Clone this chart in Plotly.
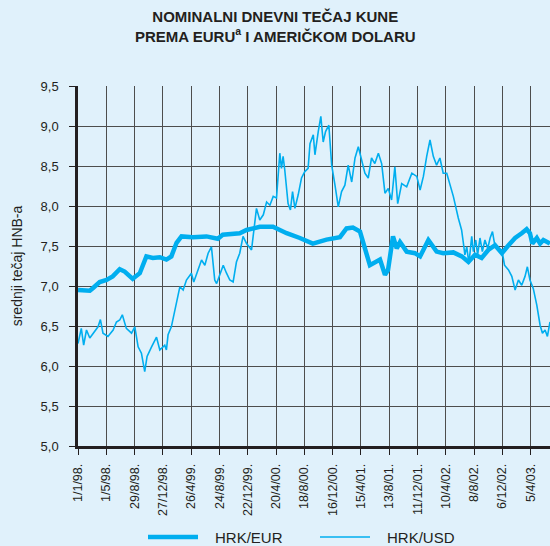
import plotly.graph_objects as go

# HRK/EUR (thick line)
eur_dates = ["1998-01-01","1998-02-20","1998-03-06","1998-04-03","1998-05-02","1998-05-28","1998-06-27",
             "1998-07-18","1998-08-21","1998-09-20","1998-10-18","1998-11-14","1998-12-14","1999-01-11",
             "1999-02-01","1999-02-23","1999-03-16","1999-05-03","1999-06-30","1999-08-17","1999-09-07",
             "1999-11-18","1999-12-17","2000-02-11","2000-04-07","2000-06-04","2000-07-30","2000-09-23",
             "2000-11-20","2001-01-16","2001-02-13","2001-03-12","2001-04-11","2001-05-09","2001-05-23",
             "2001-07-05","2001-07-26","2001-08-08","2001-08-29","2001-09-14","2001-09-28","2001-10-26",
             "2001-11-30","2001-12-22","2002-01-26","2002-03-02","2002-03-30","2002-05-12","2002-06-17",
             "2002-07-15","2002-08-12","2002-09-09","2002-10-07","2002-11-05","2002-12-04","2003-01-01",
             "2003-01-29","2003-02-26","2003-03-19","2003-04-02","2003-04-12","2003-05-01","2003-05-15",
             "2003-05-29","2003-06-26"]
eur_values = [6.95,6.94,6.975,7.05,7.075,7.12,7.21,
              7.18,7.09,7.16,7.37,7.35,7.36,7.33,
              7.37,7.54,7.62,7.61,7.62,7.59,7.64,
              7.66,7.70,7.74,7.74,7.66,7.60,7.53,
              7.58,7.61,7.72,7.73,7.68,7.41,7.26,
              7.33,7.14,7.20,7.62,7.47,7.55,7.43,
              7.41,7.37,7.575,7.43,7.41,7.42,7.37,
              7.30,7.39,7.35,7.45,7.51,7.41,7.51,
              7.60,7.66,7.71,7.66,7.53,7.60,7.53,
              7.575,7.53]

# HRK/USD (thin line)
usd_dates = ["1998-01-01","1998-01-15","1998-01-25","1998-02-06","1998-02-20","1998-03-06","1998-03-27",
             "1998-04-06","1998-04-17","1998-05-08","1998-05-30","1998-06-13","1998-06-27","1998-07-08",
             "1998-07-25","1998-08-16","1998-08-30","1998-09-13","1998-09-27","1998-10-11","1998-10-21",
             "1998-11-09","1998-11-30","1998-12-14","1999-01-04","1999-01-11","1999-01-18","1999-02-01",
             "1999-02-15","1999-03-09","1999-03-23","1999-04-06","1999-04-27","1999-05-07","1999-05-25",
             "1999-06-09","1999-06-23","1999-07-07","1999-07-21","1999-08-04","1999-08-12","1999-08-26",
             "1999-09-09","1999-09-23","1999-10-07","1999-10-21","1999-11-04","1999-11-18","1999-12-02",
             "1999-12-17","2000-01-07","2000-01-28","2000-02-11","2000-02-26","2000-03-11","2000-03-25",
             "2000-04-08","2000-04-22","2000-05-06","2000-05-13","2000-05-20","2000-05-27","2000-06-10",
             "2000-06-20","2000-06-29","2000-07-09","2000-07-23","2000-08-06","2000-08-20","2000-09-03",
             "2000-09-11","2000-09-25","2000-10-02","2000-10-16","2000-10-27","2000-11-06","2000-11-16",
             "2000-11-30","2000-12-12","2000-12-26","2001-01-09","2001-01-23","2001-02-06","2001-02-20",
             "2001-03-07","2001-03-21","2001-04-04","2001-04-18","2001-05-02","2001-05-16","2001-05-30",
             "2001-06-13","2001-06-28","2001-07-12","2001-07-26","2001-08-09","2001-08-23","2001-09-06",
             "2001-09-18","2001-10-05","2001-10-26","2001-11-17","2001-12-08","2001-12-22","2002-01-05",
             "2002-01-19","2002-02-02","2002-02-16","2002-03-02","2002-03-16","2002-03-30","2002-04-14",
             "2002-05-12","2002-06-02","2002-06-16","2002-06-23","2002-06-30","2002-07-08","2002-07-17",
             "2002-07-29","2002-08-05","2002-08-15","2002-08-23","2002-09-02","2002-09-12","2002-09-23",
             "2002-10-05","2002-10-15","2002-10-25","2002-11-05","2002-11-19","2002-12-04","2002-12-15",
             "2003-01-01","2003-01-15","2003-01-29","2003-02-12","2003-02-26","2003-03-12","2003-03-22",
             "2003-04-02","2003-04-16","2003-05-01","2003-05-15","2003-05-25","2003-06-05","2003-06-15",
             "2003-06-26"]
usd_values = [6.28,6.47,6.26,6.45,6.35,6.41,6.49,
              6.58,6.41,6.37,6.45,6.55,6.575,6.64,
              6.47,6.41,6.49,6.24,6.16,5.93,6.12,
              6.24,6.36,6.20,6.26,6.20,6.39,6.49,
              6.70,6.99,6.95,7.075,7.16,7.05,7.20,
              7.325,7.26,7.41,7.49,7.075,7.03,7.16,
              7.26,7.16,7.075,7.05,7.30,7.41,7.62,
              7.53,7.45,7.97,7.825,7.89,8.05,8.01,
              8.12,8.10,8.66,8.47,8.62,8.45,8.03,
              7.95,8.18,7.97,8.14,8.35,8.43,8.47,
              8.78,8.89,8.64,8.93,9.12,8.80,8.93,
              9.01,8.51,8.26,7.99,8.18,8.26,8.51,
              8.30,8.60,8.74,8.575,8.41,8.35,8.60,
              8.53,8.66,8.53,8.16,8.22,8.075,8.49,
              8.03,8.28,8.24,8.41,8.37,8.20,8.37,
              8.62,8.825,8.62,8.51,8.60,8.41,8.41,
              8.12,7.85,7.70,7.55,7.39,7.49,7.28,
              7.62,7.43,7.575,7.39,7.60,7.43,7.575,
              7.47,7.60,7.68,7.49,7.47,7.45,7.26,
              7.20,7.12,6.95,7.075,7.01,7.12,7.24,
              7.075,6.97,6.76,6.51,6.41,6.45,6.37,
              6.55]

tick_dates = ["1998-01-01","1998-05-01","1998-08-29","1998-12-27","1999-04-26","1999-08-24",
              "1999-12-22","2000-04-20","2000-08-18","2000-12-16","2001-04-15","2001-08-13",
              "2001-12-11","2002-04-10","2002-08-08","2002-12-06","2003-04-05"]
tick_labels = ["1/1/98.","1/5/98.","29/8/98.","27/12/98.","26/4/99.","24/8/99.",
               "22/12/99.","20/4/00.","18/8/00.","16/12/00.","15/4/01.","13/8/01.",
               "11/12/01.","10/4/02.","8/8/02.","6/12/02.","5/4/03."]
y_ticks = [5.0,5.5,6.0,6.5,7.0,7.5,8.0,8.5,9.0,9.5]
series_names = ["HRK/EUR", "HRK/USD"]
series_widths = [4.5, 1.6]

BG = "#e0f1fb"
LINE = "#00aeef"
TXT = "#231f20"
FONT = "Liberation Sans"

W, H = 550, 546
ML, MR, MT, MB = 78, 0, 86, 100
PW, PH = W - ML - MR, H - MT - MB

def px_x(px):
    return (px - ML) / PW

def px_y(py):
    return (H - MB - py) / PH

fig = go.Figure()
fig.add_trace(go.Scatter(x=eur_dates, y=eur_values, mode="lines", name=series_names[0],
                         line=dict(color=LINE, width=series_widths[0]), showlegend=False))
fig.add_trace(go.Scatter(x=usd_dates, y=usd_values, mode="lines", name=series_names[1],
                         line=dict(color=LINE, width=series_widths[1]), showlegend=False))

# title
fig.add_annotation(text="<b>NOMINALNI DNEVNI TEČAJ KUNE<br>PREMA EURU<sup>a</sup> I AMERIČKOM DOLARU</b>",
                   xref="paper", yref="paper", x=px_x(275), y=px_y(27), xanchor="center", yanchor="middle",
                   showarrow=False, font=dict(family=FONT, size=15, color=TXT), align="center")

# manual legend
leg_lines = [(148, 198), (320, 370)]
leg_text_x = [213, 385]
for i, name in enumerate(series_names):
    x0, x1 = leg_lines[i]
    fig.add_shape(type="line", xref="paper", yref="paper", x0=px_x(x0), x1=px_x(x1),
                  y0=px_y(537), y1=px_y(537), line=dict(color=LINE, width=series_widths[i]))
    fig.add_annotation(text=name, xref="paper", yref="paper", x=px_x(leg_text_x[i]), y=px_y(537),
                       xanchor="left", yanchor="middle", showarrow=False,
                       font=dict(family=FONT, size=15, color=TXT))

fig.update_layout(
    width=W, height=H,
    paper_bgcolor=BG, plot_bgcolor=BG,
    margin=dict(l=ML, r=MR, t=MT, b=MB, autoexpand=False),
    separators=", ",
    font=dict(family=FONT, color=TXT, size=12),
    showlegend=False,
    xaxis=dict(type="date", range=["1998-01-01", "2003-06-26"],
               tickvals=tick_dates, ticktext=tick_labels, tickangle=-90,
               ticks="outside", ticklen=6, tickcolor=TXT, tickwidth=1,
               showgrid=True, gridcolor="#4d4d4d", gridwidth=1,
               showline=True, linecolor=TXT, linewidth=2.5, automargin=False,
               ticklabelstandoff=4,
               tickfont=dict(size=12.5, color=TXT), zeroline=False),
    yaxis=dict(range=[5.0, 9.5], tickvals=y_ticks, tickformat=".1f",
               ticks="outside", ticklen=6, tickcolor=TXT, tickwidth=1,
               showgrid=True, gridcolor="#4d4d4d", gridwidth=1,
               showline=True, linecolor=TXT, linewidth=2.5, automargin=False,
               ticklabelstandoff=8,
               tickfont=dict(size=13, color=TXT), zeroline=False,
               title=dict(text="srednji tečaj HNB-a", font=dict(size=14, color=TXT))),
)

fig.write_html("out.html", config={"displayModeBar": False},
               post_script="document.body.style.margin='0';document.body.style.background='%s';" % BG)
